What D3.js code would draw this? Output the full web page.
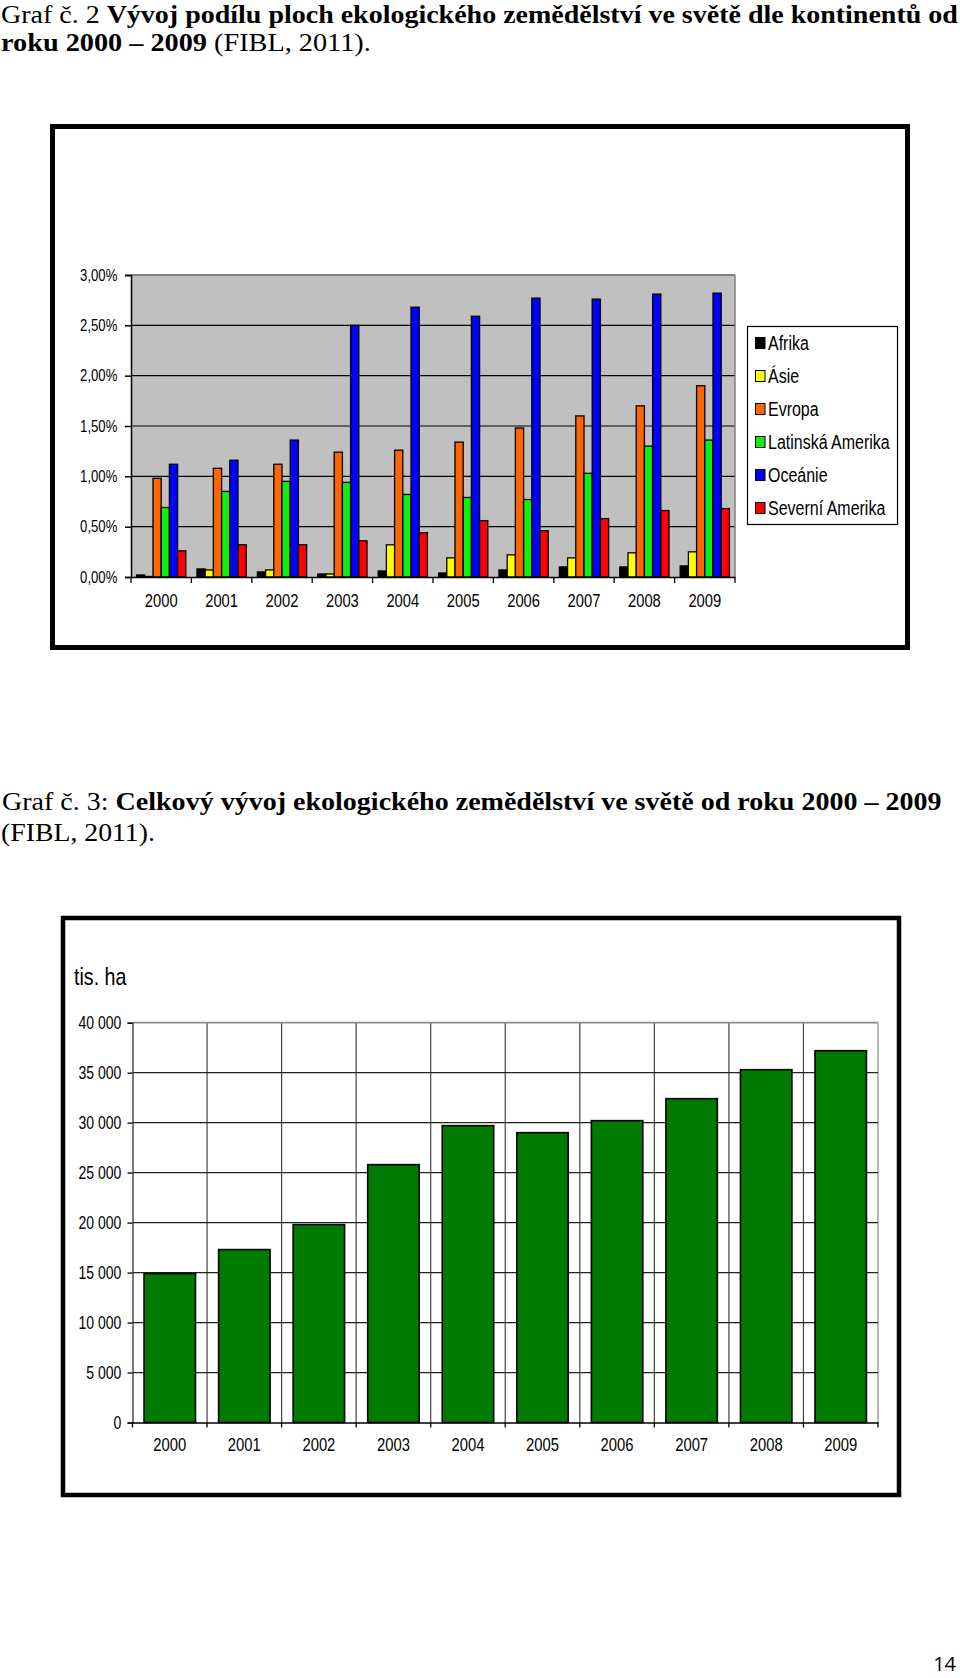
<!DOCTYPE html>
<html>
<head>
<meta charset="utf-8">
<script src="https://cdn.jsdelivr.net/npm/d3@7"></script>
<style>
  body { margin: 0; background: #fff; }
  svg { display: block; }
  text { white-space: pre; }
</style>
</head>
<body>
<svg id="page" width="960" height="1678"></svg>
<script>
// ---------------- DATA ----------------
const years = ["2000","2001","2002","2003","2004","2005","2006","2007","2008","2009"];
const regions = ["Afrika","Ásie","Evropa","Latinská Amerika","Oceánie","Severní Amerika"];
const regionColors = ["#000000","#ffff00","#ff6600","#11ee11","#0000ff","#ff0000"];
const afrika    = [0.02, 0.08, 0.05, 0.03, 0.06, 0.04, 0.07, 0.10, 0.10, 0.11];
const asie      = [0.005,0.07, 0.07, 0.03, 0.32, 0.19, 0.22, 0.19, 0.24, 0.25];
const evropa    = [0.98, 1.08, 1.12, 1.24, 1.26, 1.34, 1.48, 1.60, 1.70, 1.90];
const latinAm   = [0.69, 0.85, 0.95, 0.94, 0.82, 0.79, 0.77, 1.03, 1.30, 1.36];
const oceanie   = [1.12, 1.16, 1.36, 2.50, 2.68, 2.59, 2.77, 2.76, 2.81, 2.82];
const severniAm = [0.26, 0.32, 0.32, 0.36, 0.44, 0.56, 0.46, 0.58, 0.66, 0.68];
const shareTicks = [0, 0.5, 1, 1.5, 2, 2.5, 3];

const totalArea = [14900, 17300, 19800, 25800, 29700, 29000, 30200, 32400, 35300, 37200];
const areaTicks = [0, 5000, 10000, 15000, 20000, 25000, 30000, 35000, 40000];

const caption1a = [{t:"Graf č. 2 ", b:false}, {t:"Vývoj podílu ploch ekologického zemědělství ve světě dle kontinentů od", b:true}];
const caption1b = [{t:"roku 2000 – 2009", b:true}, {t:" (FIBL, 2011).", b:false}];
const caption2a = [{t:"Graf č. 3: ", b:false}, {t:"Celkový vývoj ekologického zemědělství ve světě od roku 2000 – 2009", b:true}];
const caption2b = [{t:"(FIBL, 2011).", b:false}];
const unitLabel = "tis. ha";
const pageNumber = "14";

// ---------------- HELPERS ----------------
const svg = d3.select("#page");
const SANS = "'Liberation Sans', Arial, sans-serif";
const SERIF = "'Liberation Serif', 'Times New Roman', serif";
const SX = 0.82; // narrow look of the chart fonts

const cz = d3.formatLocale({decimal: ",", thousands: " ", grouping: [3], currency: ["", ""]});
const pctFmt = v => cz.format(".2f")(v) + "%";
const numFmt = cz.format(",d");

function fitLine(parts, x, baseline, width, size) {
  const t = svg.append("text")
    .attr("font-family", SERIF)
    .attr("font-size", size)
    .attr("fill", "#000");
  parts.forEach(p => t.append("tspan").attr("font-weight", p.b ? "bold" : "normal").text(p.t));
  const w = t.node().getComputedTextLength();
  t.attr("transform", `translate(${x},${baseline}) scale(${width / w},1)`);
}

function narrowText(g, x, y, txt, size, anchor, sx) {
  return g.append("text")
    .attr("transform", `translate(${x},${y}) scale(${sx},1)`)
    .attr("font-family", SANS)
    .attr("font-size", size)
    .attr("text-anchor", anchor)
    .attr("fill", "#000")
    .text(txt);
}

// ---------------- CAPTIONS ----------------
fitLine(caption1a, 1, 23, 957, 24.5);
fitLine(caption1b, 1, 51, 370, 24.5);
fitLine(caption2a, 2, 810, 940, 24.5);
fitLine(caption2b, 1, 841, 154, 24.5);

svg.append("text")
  .attr("x", 956).attr("y", 1671)
  .attr("text-anchor", "end")
  .attr("font-family", "'Open Sans', 'Noto Sans', sans-serif")
  .attr("font-size", 20)
  .text(pageNumber);

// ---------------- CHART 1 ----------------
(function chart1() {
  const g = svg.append("g");
  const left = 131, right = 735, top = 275, bottom = 577;

  g.append("rect").attr("x", 52.5).attr("y", 126.5).attr("width", 855).attr("height", 521)
    .attr("fill", "#fff").attr("stroke", "#000").attr("stroke-width", 5);

  const x0 = d3.scaleBand().domain(years).range([left, right]).padding(0);
  const x1 = d3.scaleBand().domain(regions).range([0, x0.bandwidth()]).paddingInner(0).paddingOuter(0.68);
  const y = d3.scaleLinear().domain([0, 3]).range([bottom, top]);
  const color = d3.scaleOrdinal().domain(regions).range(regionColors);

  g.append("rect").attr("x", left).attr("y", top).attr("width", right - left).attr("height", bottom - top)
    .attr("fill", "#c0c0c0");

  // gridlines
  g.append("g").selectAll("line").data(shareTicks.filter(d => d > 0)).join("line")
    .attr("x1", left).attr("x2", right)
    .attr("y1", d => y(d)).attr("y2", d => y(d))
    .attr("stroke", d => d === 3 ? "#808080" : "#000").attr("stroke-width", d => d === 3 ? 2 : 1.2);
  g.append("line").attr("x1", right).attr("x2", right).attr("y1", top).attr("y2", bottom)
    .attr("stroke", "#808080").attr("stroke-width", 1.5);

  const series = [afrika, asie, evropa, latinAm, oceanie, severniAm];
  const rows = years.map((yr, i) => ({year: yr, values: regions.map((r, k) => ({region: r, value: series[k][i]}))}));

  const groups = g.append("g").selectAll("g").data(rows).join("g")
    .attr("transform", d => `translate(${x0(d.year)},0)`);
  groups.selectAll("rect").data(d => d.values).join("rect")
    .attr("x", d => x1(d.region))
    .attr("width", x1.bandwidth())
    .attr("y", d => y(d.value))
    .attr("height", d => y(0) - y(d.value))
    .attr("fill", d => color(d.region))
    .attr("stroke", "#000").attr("stroke-width", 1.3);

  // y axis
  const ya = g.append("g").attr("transform", `translate(${left},0)`)
    .call(d3.axisLeft(y).tickValues(shareTicks).tickFormat(pctFmt).tickSize(6).tickPadding(10.7));
  ya.select(".domain").attr("stroke", "#000").attr("stroke-width", 1.5);
  ya.selectAll(".tick line").attr("stroke", "#000").attr("stroke-width", 1.5);
  ya.selectAll(".tick text")
    .attr("font-family", SANS).attr("font-size", 16).attr("fill", "#000")
    .attr("transform", `scale(${SX},1)`);

  // x axis
  const xa = g.append("g").attr("transform", `translate(0,${bottom})`)
    .call(d3.axisBottom(x0).tickSize(0).tickPadding(0));
  xa.select(".domain").attr("stroke", "#000").attr("stroke-width", 1.5);
  xa.selectAll(".tick text").each(function(d) {
    d3.select(this).attr("y", 0).attr("dy", 0)
      .attr("font-family", SANS).attr("font-size", 18).attr("fill", "#000")
      .attr("transform", `translate(0,30) scale(${SX},1)`);
  });
  const bounds = years.map(d => x0(d)).concat([right]);
  g.append("g").selectAll("line").data(bounds).join("line")
    .attr("x1", d => d).attr("x2", d => d).attr("y1", bottom).attr("y2", bottom + 6)
    .attr("stroke", "#000").attr("stroke-width", 1.3);

  // legend
  const lg = g.append("g");
  lg.append("rect").attr("x", 747.5).attr("y", 326.5).attr("width", 150).attr("height", 198)
    .attr("fill", "#fff").attr("stroke", "#000").attr("stroke-width", 1.2);
  const ly = d3.scalePoint().domain(regions).range([343, 508]);
  regions.forEach(r => {
    lg.append("rect").attr("x", 755.5).attr("y", ly(r) - 5.5).attr("width", 9.5).attr("height", 11)
      .attr("fill", color(r)).attr("stroke", "#000").attr("stroke-width", 1);
    narrowText(lg, 768, ly(r) + 7, r, 19.5, "start", SX);
  });
})();

// ---------------- CHART 2 ----------------
(function chart2() {
  const g = svg.append("g");
  const left = 132.5, right = 878, top = 1022.7, bottom = 1422.5;

  g.append("rect").attr("x", 63).attr("y", 918).attr("width", 836).attr("height", 577)
    .attr("fill", "#fff").attr("stroke", "#000").attr("stroke-width", 4.5);

  const x = d3.scaleBand().domain(years).range([left, right]).paddingInner(0.31).paddingOuter(0.155);
  const xb = d3.scaleBand().domain(years).range([left, right]).padding(0);
  const y = d3.scaleLinear().domain([0, 40000]).range([bottom, top]);

  // vertical gridlines at category boundaries
  const bounds = years.map(d => xb(d)).concat([right]);
  g.append("g").selectAll("line").data(bounds.slice(1)).join("line")
    .attr("x1", d => d).attr("x2", d => d).attr("y1", top).attr("y2", bottom)
    .attr("stroke", (d, i) => i === bounds.length - 2 ? "#8a8a8a" : "#444").attr("stroke-width", 1.2);
  // horizontal gridlines
  g.append("g").selectAll("line").data(areaTicks.filter(d => d > 0)).join("line")
    .attr("x1", left).attr("x2", right)
    .attr("y1", d => y(d)).attr("y2", d => y(d))
    .attr("stroke", d => d === 40000 ? "#8a8a8a" : "#222").attr("stroke-width", d => d === 40000 ? 1.8 : 1.3);

  g.append("g").selectAll("rect").data(years.map((yr, i) => ({year: yr, value: totalArea[i]}))).join("rect")
    .attr("x", d => x(d.year))
    .attr("width", x.bandwidth())
    .attr("y", d => y(d.value))
    .attr("height", d => y(0) - y(d.value))
    .attr("fill", "#007a00")
    .attr("stroke", "#000").attr("stroke-width", 1.6);

  // y axis
  const ya = g.append("g").attr("transform", `translate(${left},0)`)
    .call(d3.axisLeft(y).tickValues(areaTicks).tickFormat(numFmt).tickSize(5).tickPadding(9));
  ya.select(".domain").attr("stroke", "#333").attr("stroke-width", 1.3);
  ya.selectAll(".tick line").attr("stroke", "#000").attr("stroke-width", 1.3);
  ya.selectAll(".tick text")
    .attr("font-family", SANS).attr("font-size", 17.5).attr("fill", "#000")
    .attr("transform", `scale(0.8,1)`);

  // x axis
  const xa = g.append("g").attr("transform", `translate(0,${bottom})`)
    .call(d3.axisBottom(xb).tickSize(0).tickPadding(0));
  xa.select(".domain").attr("stroke", "#000").attr("stroke-width", 1.5);
  xa.selectAll(".tick text").each(function() {
    d3.select(this).attr("y", 0).attr("dy", 0)
      .attr("font-family", SANS).attr("font-size", 18.5).attr("fill", "#000")
      .attr("transform", `translate(0,28.5) scale(0.8,1)`);
  });
  g.append("g").selectAll("line").data(bounds).join("line")
    .attr("x1", d => d).attr("x2", d => d).attr("y1", bottom).attr("y2", bottom + 5)
    .attr("stroke", "#000").attr("stroke-width", 1.3);

  narrowText(g, 74, 985, unitLabel, 24, "start", 0.82);
})();
</script>
</body>
</html>
